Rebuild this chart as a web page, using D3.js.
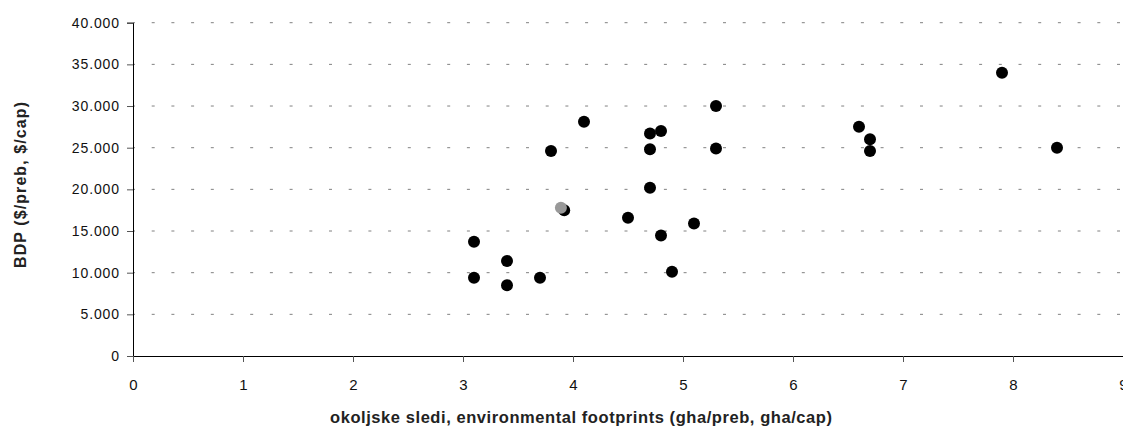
<!DOCTYPE html>
<html>
<head>
<meta charset="utf-8">
<script src="https://cdn.jsdelivr.net/npm/d3@7"></script>
<style>
  body { margin: 0; background: #fff; }
  svg { display: block; font-family: "Liberation Sans", Arial, sans-serif; }
</style>
</head>
<body>
<svg id="chart" width="1123" height="429"></svg>
<script>
// footprint (gha/cap) vs GDP ($/cap)
const footprint = [7.9, 8.4, 5.3, 4.7, 4.8, 4.7, 5.3, 4.7, 6.6, 6.7, 6.7, 4.1, 3.8,
                   3.92, 4.5, 5.1, 4.8, 3.1, 3.4, 4.9, 3.1, 3.7, 3.4];
const gdp = [34000, 25000, 30000, 26700, 27000, 24800, 24900, 20200, 27500, 26000, 24600, 28100, 24600,
             17500, 16600, 15900, 14450, 13700, 11400, 10100, 9400, 9400, 8500];
// the single grey point
const highlightX = [3.89];
const highlightY = [17800];

const xTicks = [0, 1, 2, 3, 4, 5, 6, 7, 8, 9];
const yTicks = [0, 5000, 10000, 15000, 20000, 25000, 30000, 35000, 40000];

const svg = d3.select("#chart");
const margin = { left: 133, right: 0, top: 22.7, bottom: 73 };
const width = 1123, height = 429;

const x = d3.scaleLinear().domain([0, 9]).range([margin.left, margin.left + 990]);
const y = d3.scaleLinear().domain([0, 40000]).range([height - margin.bottom, margin.top]);

const fmt = (v) => v === 0 ? "0" : d3.format(",")(v).replace(/,/g, ".");

// dashed horizontal grid
svg.append("g")
  .selectAll("line")
  .data(yTicks.filter((d) => d > 0))
  .enter()
  .append("line")
  .attr("x1", x(0))
  .attr("x2", width)
  .attr("y1", (d) => y(d))
  .attr("y2", (d) => y(d))
  .attr("stroke", "#808080")
  .attr("stroke-width", 1)
  .attr("stroke-dasharray", "3 16.7")
  .attr("stroke-dashoffset", -18.7);

// y axis
const yAxis = svg.append("g")
  .attr("transform", `translate(${x(0)},0)`)
  .call(d3.axisLeft(y).tickValues(yTicks).tickFormat(fmt).tickSize(6).tickPadding(7));
yAxis.select(".domain").attr("stroke", "#000");
yAxis.selectAll(".tick line").attr("stroke", "#555");
yAxis.selectAll("text")
  .attr("font-size", 14)
  .attr("letter-spacing", 0.9)
  .attr("fill", "#111")
  .attr("font-family", null);

// x axis
const xAxis = svg.append("g")
  .attr("transform", `translate(0,${y(0)})`)
  .call(d3.axisBottom(x).tickValues(xTicks).tickFormat(d3.format("d")).tickSize(6).tickPadding(17).tickSizeOuter(0));
xAxis.select(".domain").attr("stroke", "#000");
xAxis.selectAll(".tick line").attr("stroke", "#555");
xAxis.selectAll("text").attr("font-size", 15).attr("fill", "#111").attr("font-family", null);

// points
svg.append("g")
  .selectAll("circle")
  .data(footprint.map((f, i) => [f, gdp[i]]))
  .enter()
  .append("circle")
  .attr("cx", (d) => x(d[0]))
  .attr("cy", (d) => y(d[1]))
  .attr("r", 6)
  .attr("fill", "#000");

svg.append("g")
  .selectAll("circle")
  .data(highlightX.map((f, i) => [f, highlightY[i]]))
  .enter()
  .append("circle")
  .attr("cx", (d) => x(d[0]))
  .attr("cy", (d) => y(d[1]))
  .attr("r", 6)
  .attr("fill", "#999");

// axis titles
svg.append("text")
  .attr("x", 581)
  .attr("y", 423)
  .attr("text-anchor", "middle")
  .attr("font-weight", "bold")
  .attr("font-size", 16.5)
  .attr("fill", "#222")
  .attr("textLength", 502)
  .attr("lengthAdjust", "spacing")
  .text("okoljske sledi, environmental footprints (gha/preb, gha/cap)");

svg.append("text")
  .attr("transform", "translate(26,185) rotate(-90)")
  .attr("text-anchor", "middle")
  .attr("font-weight", "bold")
  .attr("font-size", 16)
  .attr("fill", "#222")
  .attr("textLength", 166)
  .attr("lengthAdjust", "spacing")
  .text("BDP ($/preb, $/cap)");
</script>
</body>
</html>
